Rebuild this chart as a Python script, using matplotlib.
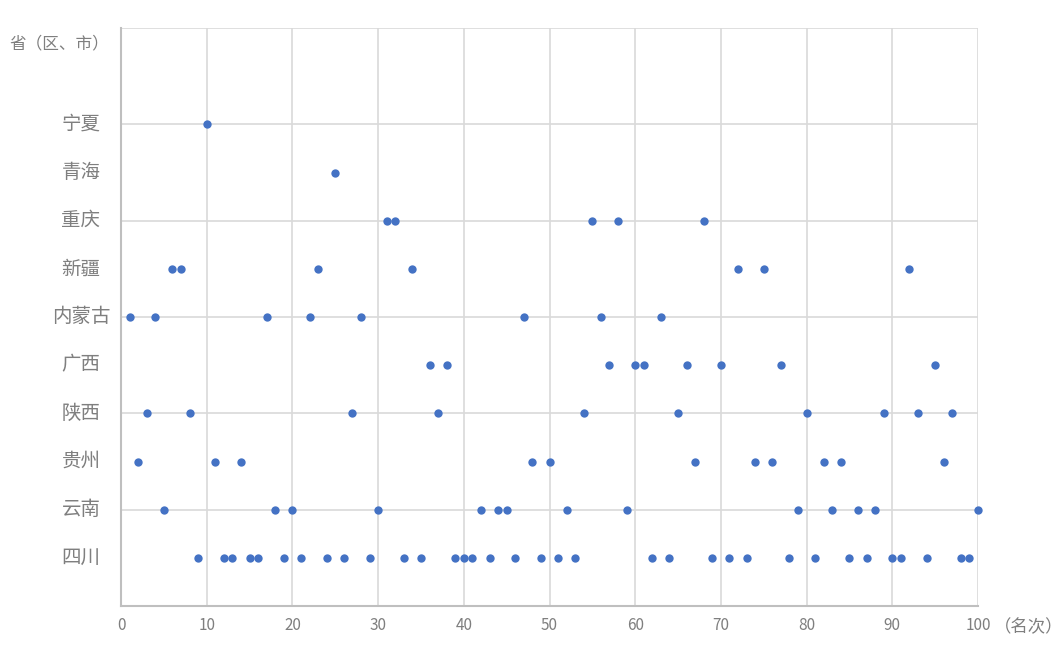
import matplotlib
matplotlib.use("Agg")
import matplotlib.pyplot as plt
from matplotlib.transforms import blended_transform_factory

plt.rcParams['font.family'] = ['Noto Sans CJK SC', 'DejaVu Sans']

provinces = ["四川", "云南", "贵州", "陕西", "广西", "内蒙古", "新疆", "重庆", "青海", "宁夏"]

rank_sichuan = [9, 12, 13, 15, 16, 19, 21, 24, 26, 29, 33, 35, 39, 40, 41, 43, 46, 49, 51, 53,
                62, 64, 69, 71, 73, 78, 81, 85, 87, 90, 91, 94, 98, 99]
rank_yunnan = [5, 18, 20, 30, 42, 44, 45, 52, 59, 79, 83, 86, 88, 100]
rank_guizhou = [2, 11, 14, 48, 50, 67, 74, 76, 82, 84, 96]
rank_shaanxi = [3, 8, 27, 37, 54, 65, 80, 89, 93, 97]
rank_guangxi = [36, 38, 57, 60, 61, 66, 70, 77, 95]
rank_neimenggu = [1, 4, 17, 22, 28, 47, 56, 63]
rank_xinjiang = [6, 7, 23, 34, 72, 75, 92]
rank_chongqing = [31, 32, 55, 58, 68]
rank_qinghai = [25]
rank_ningxia = [10]

ranks = [rank_sichuan, rank_yunnan, rank_guizhou, rank_shaanxi, rank_guangxi,
         rank_neimenggu, rank_xinjiang, rank_chongqing, rank_qinghai, rank_ningxia]

x_ticks = list(range(0, 101, 10))

fig = plt.figure(figsize=(10.64, 6.54), dpi=100)
ax = fig.add_axes([121/1064, 1 - 606/654, (978 - 121)/1064, (606 - 28)/654])

grid_c = "#d9d9d9"
txt_c = "#7f7f7f"
for y in range(2, 13, 2):
    ax.axhline(y, color=grid_c, lw=1.2, zorder=1)
for x in x_ticks[1:]:
    ax.axvline(x, color=grid_c, lw=1.2, zorder=1)

for i, r in enumerate(ranks):
    ax.scatter(r, [i + 1] * len(r), s=36, color="#4472C4", zorder=3, linewidths=0,
               clip_on=False)

ax.set_xlim(0, 100)
ax.set_ylim(0, 12)
ax.set_xticks(x_ticks)
ax.set_xticklabels([str(v) for v in x_ticks], fontsize=11, color=txt_c)
ax.set_yticks([])
ax.tick_params(axis='x', length=0, pad=8)

trans = blended_transform_factory(fig.transFigure, ax.transData)
for i, p in enumerate(provinces):
    ax.text(81/1064, i + 1, p, transform=trans, fontsize=14, color=txt_c,
            ha="center", va="center")

for s in ["top", "right"]:
    ax.spines[s].set_visible(False)
for s in ["left", "bottom"]:
    ax.spines[s].set_color("#bfbfbf")
    ax.spines[s].set_linewidth(1.5)

fig.text(9/1064, 1 - 44/654, "省（区、市）", fontsize=12, color=txt_c,
         ha="left", va="center")
fig.text(994/1064, 1 - 627/654, "（名次）", fontsize=12.5, color=txt_c,
         ha="left", va="center")

fig.savefig("out.png", dpi=100, facecolor="white")
